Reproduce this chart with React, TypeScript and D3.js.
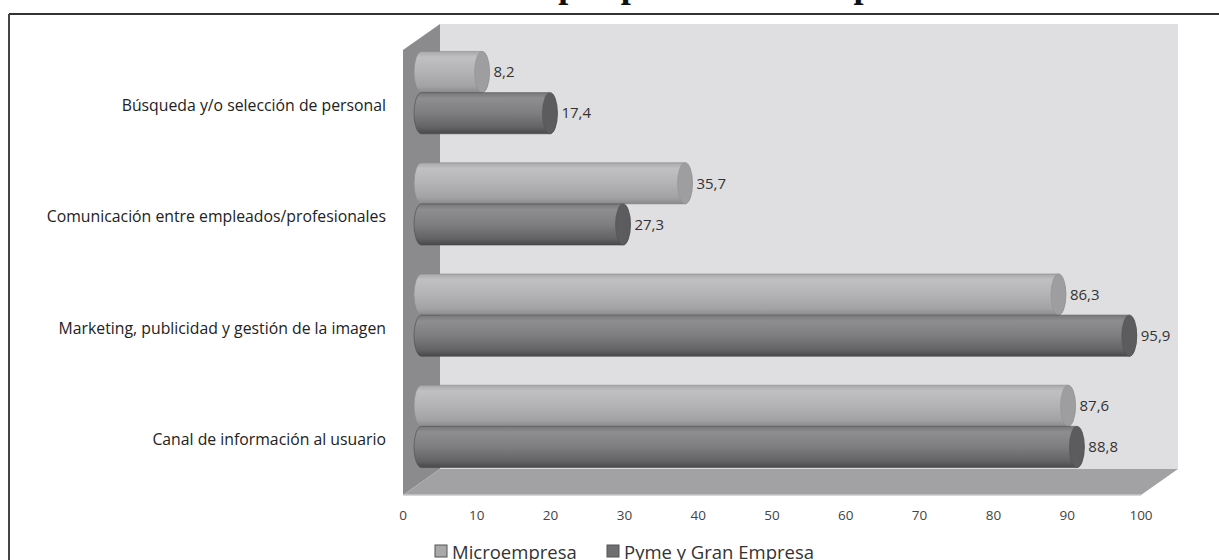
import React from "react";
import * as d3 from "d3";

const categories = [
  "Búsqueda y/o selección de personal",
  "Comunicación entre empleados/profesionales",
  "Marketing, publicidad y gestión de la imagen",
  "Canal de información al usuario",
];
const seriesNames = ["Microempresa", "Pyme y Gran Empresa"];
const microValues = [8.2, 35.7, 86.3, 87.6];
const pymeValues = [17.4, 27.3, 95.9, 88.8];
const xTicks = [0, 10, 20, 30, 40, 50, 60, 70, 80, 90, 100];
const title = "Usos de redes sociales por parte de las empresas";

const W = 1219;
const H = 560;
const FONT = "'Open Sans', 'DejaVu Sans', sans-serif";

// front plane of the 3D box
const frontLeft = 403;
const frontRight = 1141;
const frontTop = 50;
const frontBottom = 495;
// depth projection
const depthX = 37;
const depthY = -26;

const seriesStyle = [
  {
    id: "light",
    stops: ["#a8a8aa", "#c0c0c2", "#b3b3b5", "#a2a2a4", "#8a8a8c"],
    cap: "#9e9ea0",
    edge: "#8a8a8c",
    swatch: "#a9a9a9",
  },
  {
    id: "dark",
    stops: ["#77777a", "#8e8e90", "#7e7e80", "#626264", "#48484a"],
    cap: "#5c5c5e",
    edge: "#4a4a4c",
    swatch: "#6f6f71",
  },
];

const fmt = (v: number) => d3.format(".1f")(v).replace(".", ",");

export default function App() {
  const x = d3.scaleLinear().domain([0, 100]).range([frontLeft, frontRight]);
  const y = d3
    .scaleBand<string>()
    .domain(categories)
    .range([frontTop, frontBottom])
    .paddingInner(0.26)
    .paddingOuter(0.13);
  const sub = d3
    .scaleBand<number>()
    .domain([0, 1])
    .range([0, y.bandwidth()]);

  const midX = depthX / 2;
  const midY = depthY / 2;
  const rx = 7.5;

  const backWall = [
    [frontLeft + depthX, frontTop + depthY],
    [frontRight + depthX, frontTop + depthY],
    [frontRight + depthX, frontBottom + depthY],
    [frontLeft + depthX, frontBottom + depthY],
  ];
  const sideWall = [
    [frontLeft, frontTop],
    [frontLeft + depthX, frontTop + depthY],
    [frontLeft + depthX, frontBottom + depthY],
    [frontLeft, frontBottom],
  ];
  const floor = [
    [frontLeft, frontBottom],
    [frontLeft + depthX, frontBottom + depthY],
    [frontRight + depthX, frontBottom + depthY],
    [frontRight, frontBottom],
  ];
  const poly = (pts: number[][]) => "M" + pts.map((p) => p.join(",")).join("L") + "Z";

  const seriesValues = [microValues, pymeValues];

  const cylinders: React.ReactNode[] = [];
  const labels: React.ReactNode[] = [];
  categories.forEach((cat, ci) => {
    seriesValues.forEach((vals, si) => {
      const v = vals[ci];
      const st = seriesStyle[si];
      const yt = (y(cat) as number) + (sub(si) as number) + midY;
      const h = sub.bandwidth();
      const yb = yt + h;
      const ry = h / 2;
      const x0 = x(0) + midX;
      const x1 = x(v) + midX;
      const body =
        `M${x0},${yt}L${x1},${yt}` +
        `A${rx},${ry} 0 0 1 ${x1},${yb}` +
        `L${x0},${yb}` +
        `A${rx},${ry} 0 0 1 ${x0},${yt}Z`;
      cylinders.push(
        <g key={`c-${ci}-${si}`}>
          <path d={body} fill={`url(#grad-${st.id})`} stroke={st.edge} strokeWidth={0.6} />
          <ellipse cx={x1} cy={yt + ry} rx={rx} ry={ry} fill={st.cap} stroke={st.edge} strokeWidth={0.4} />
        </g>
      );
      labels.push(
        <text
          key={`l-${ci}-${si}`}
          x={x1 + rx + 4}
          y={yt + ry}
          dy="0.35em"
          fontSize={15}
          fill="#333"
          fontFamily={FONT}
        >
          {fmt(v)}
        </text>
      );
    });
  });

  return (
    <svg
      width={W}
      height={H}
      viewBox={`0 0 ${W} ${H}`}
      style={{ position: "absolute", left: 0, top: 0, background: "#fff" }}
    >
      <defs>
        {seriesStyle.map((s) => (
          <linearGradient key={s.id} id={`grad-${s.id}`} x1="0" y1="0" x2="0" y2="1">
            <stop offset="0" stopColor={s.stops[0]} />
            <stop offset="0.14" stopColor={s.stops[1]} />
            <stop offset="0.5" stopColor={s.stops[2]} />
            <stop offset="0.85" stopColor={s.stops[3]} />
            <stop offset="1" stopColor={s.stops[4]} />
          </linearGradient>
        ))}
      </defs>

      {/* title, set above the frame */}
      <text
        x={217}
        y={-3}
        fontFamily="'Liberation Serif', 'Times New Roman', serif"
        fontWeight="bold"
        fontSize={36}
        fill="#111"
      >
        {title}
      </text>

      {/* frame */}
      <line x1={9} y1={14} x2={W} y2={14} stroke="#333" strokeWidth={2} />
      <line x1={9} y1={14} x2={9} y2={H} stroke="#444" strokeWidth={2} />

      {/* 3D box */}
      <path d={poly(backWall)} fill="#dfdfe1" />
      <path d={poly(sideWall)} fill="#8b8b8d" />
      <path d={poly(floor)} fill="#a2a2a4" />
      <line x1={frontLeft} y1={frontBottom} x2={frontRight} y2={frontBottom} stroke="#c9c9cb" strokeWidth={1.5} />

      {cylinders}
      {labels}

      {/* category labels */}
      {categories.map((c) => (
        <text
          key={c}
          x={386}
          y={(y(c) as number) + y.bandwidth() / 2}
          dy="0.35em"
          textAnchor="end"
          fontSize={15.8}
          fill="#222"
          fontFamily={FONT}
        >
          {c}
        </text>
      ))}

      {/* x axis tick labels */}
      {xTicks.map((t) => (
        <text
          key={t}
          x={x(t)}
          y={520}
          textAnchor="middle"
          fontSize={13.5}
          fill="#444"
          fontFamily={FONT}
        >
          {t}
        </text>
      ))}

      {/* legend */}
      {seriesNames.map((n, i) => {
        const lx = i === 0 ? 435 : 607;
        return (
          <g key={n}>
            <rect x={lx} y={545} width={12} height={12} fill={seriesStyle[i].swatch} stroke="#555" strokeWidth={1} />
            <text x={lx + 17} y={559} fontSize={18.5} fill="#333" fontFamily={FONT}>
              {n}
            </text>
          </g>
        );
      })}
    </svg>
  );
}
